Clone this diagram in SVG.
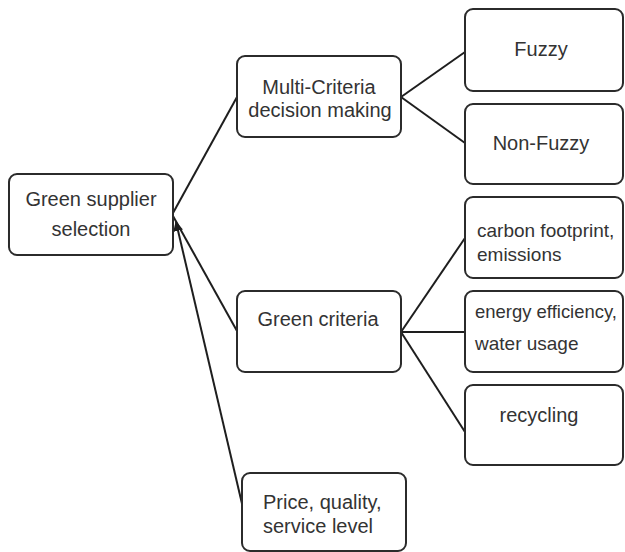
<svg xmlns="http://www.w3.org/2000/svg" width="625" height="552" viewBox="0 0 625 552">
<style>
.box{fill:#fff;stroke:#2b2b2b;stroke-width:2}
.t{font-family:"Liberation Sans",Arial,sans-serif;font-size:20px;fill:#333}
.s{font-size:19px}
.m{text-anchor:middle}
.c{stroke:#1e1e1e;stroke-width:2;fill:none}
</style>
<defs>
<marker id="ah" viewBox="0 0 10 10" refX="9" refY="5" markerWidth="5" markerHeight="5" orient="auto-start-reverse">
<path d="M0,0 L10,5 L0,10 z" fill="#1e1e1e"/>
</marker>
</defs>
<rect width="625" height="552" fill="#fff"/>
<g id="connectors">
<line class="c" x1="173" y1="213" x2="237" y2="97"/>
<line class="c" x1="173" y1="216" x2="237" y2="331"/>
<line class="c" x1="243" y1="508" x2="176" y2="222" marker-end="url(#ah)"/>
<line class="c" x1="401" y1="97" x2="465" y2="52"/>
<line class="c" x1="401" y1="97" x2="465" y2="143"/>
<line class="c" x1="401" y1="332" x2="465" y2="238"/>
<line class="c" x1="401" y1="332" x2="465" y2="332"/>
<line class="c" x1="401" y1="332" x2="465" y2="432"/>
</g>
<g id="n-gss">
<rect class="box" x="9" y="174" width="164" height="81" rx="8"/>
<text class="t m" x="91" y="206">Green supplier</text>
<text class="t m" x="91" y="236">selection</text>
</g>
<g id="n-mcdm">
<rect class="box" x="237" y="56" width="164" height="81" rx="8"/>
<text class="t m" x="319" y="94">Multi-Criteria</text>
<text class="t m" x="320" y="117">decision making</text>
</g>
<g id="n-fuzzy">
<rect class="box" x="465" y="9" width="158" height="82" rx="8"/>
<text class="t m" x="541" y="56">Fuzzy</text>
</g>
<g id="n-nonfuzzy">
<rect class="box" x="465" y="104" width="158" height="80" rx="8"/>
<text class="t m" x="541" y="150">Non-Fuzzy</text>
</g>
<g id="n-green">
<rect class="box" x="237" y="291" width="164" height="81" rx="8"/>
<text class="t m" x="318" y="326">Green criteria</text>
</g>
<g id="n-carbon">
<rect class="box" x="465" y="197" width="158" height="81" rx="8"/>
<text class="t s" x="477" y="237">carbon footprint,</text>
<text class="t s" x="477" y="261">emissions</text>
</g>
<g id="n-energy">
<rect class="box" x="465" y="291" width="158" height="81" rx="8"/>
<text class="t s" x="475" y="318" textLength="142" lengthAdjust="spacingAndGlyphs">energy efficiency,</text>
<text class="t s" x="475" y="350">water usage</text>
</g>
<g id="n-recycling">
<rect class="box" x="465" y="385" width="158" height="80" rx="8"/>
<text class="t m" x="539" y="422">recycling</text>
</g>
<g id="n-price">
<rect class="box" x="242" y="473" width="164" height="78" rx="8"/>
<text class="t" x="263" y="509">Price, quality,</text>
<text class="t" x="263" y="533">service level</text>
</g>
</svg>
